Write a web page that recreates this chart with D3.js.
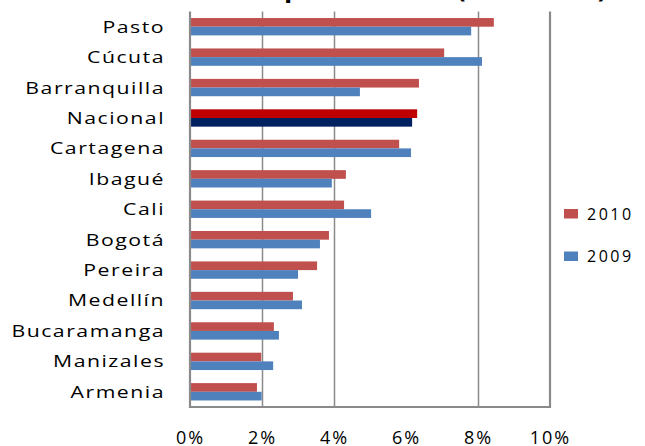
<!DOCTYPE html>
<html>
<head>
<meta charset="utf-8">
<script src="https://cdn.jsdelivr.net/npm/d3@7"></script>
<style>
  html, body { margin: 0; padding: 0; background: #fff; }
  svg { display: block; }
</style>
</head>
<body>
<div id="chart"></div>
<script>
// data (unemployment rate, share)
const cities = ["Pasto", "Cúcuta", "Barranquilla", "Nacional", "Cartagena", "Ibagué",
  "Cali", "Bogotá", "Pereira", "Medellín", "Bucaramanga", "Manizales", "Armenia"];
const v2010 = [0.0844, 0.0706, 0.0636, 0.0631, 0.0581, 0.0433, 0.0428, 0.0386, 0.0353, 0.0286, 0.0233, 0.0198, 0.0186];
const v2009 = [0.0781, 0.0811, 0.0472, 0.0617, 0.0614, 0.0394, 0.0503, 0.0361, 0.0300, 0.0311, 0.0247, 0.0231, 0.0199];
const seriesNames = ["2010", "2009"];
const xTicks = [0, 0.02, 0.04, 0.06, 0.08, 0.10];
const gridTicks = [0.02, 0.04, 0.08]; // the 6% line doesn't show in the original

const W = 645, H = 446;
const plot = { left: 190, right: 550, top: 11.5, bottom: 407 };
const colors = { "2010": "#C0504D", "2009": "#4F81BD" };
const natColors = { "2010": "#C00000", "2009": "#002060" };
const font = "'Open Sans', sans-serif";

const svg = d3.select("#chart").append("svg")
  .attr("width", W).attr("height", H);

// title, mostly cut off above the frame
svg.append("text")
  .attr("x", 607).attr("y", -3)
  .attr("text-anchor", "end")
  .style("font", `bold 27px ${font}`)
  .attr("fill", "#000")
  .text("Tasa de Desempleo Urbano (2009-2010)");

const x = d3.scaleLinear().domain([0, 0.10]).range([plot.left, plot.right]);
const y = d3.scaleBand().domain(cities)
  .range([plot.top, plot.bottom])
  .paddingInner(0.43).paddingOuter(0.215);
const ys = d3.scaleBand().domain(seriesNames).range([0, y.bandwidth()]);

// gridlines
svg.append("g")
  .attr("transform", `translate(0,${plot.bottom})`)
  .call(d3.axisBottom(x).tickValues(gridTicks).tickSize(-(plot.bottom - plot.top)).tickFormat(""))
  .call(g => g.select(".domain").remove())
  .call(g => g.selectAll("line").attr("stroke", "#8a8a8a").attr("stroke-width", 1.5));

// bars
const rows = cities.map((c, i) => ({ city: c, vals: [v2010[i], v2009[i]] }));
const grp = svg.append("g").selectAll("g").data(rows).join("g")
  .attr("transform", d => `translate(0,${y(d.city)})`);
grp.selectAll("rect")
  .data(d => d.vals.map((v, k) => ({ city: d.city, s: seriesNames[k], v })))
  .join("rect")
  .attr("x", x(0))
  .attr("y", d => ys(d.s))
  .attr("width", d => x(d.v) - x(0))
  .attr("height", ys.bandwidth())
  .attr("fill", d => d.city === "Nacional" ? natColors[d.s] : colors[d.s]);

// frame: left, right, bottom
const frame = svg.append("g").attr("stroke", "#8a8a8a").attr("stroke-width", 2.2).attr("fill", "none");
frame.append("path")
  .attr("d", `M${plot.left},${plot.top}V${plot.bottom}H${plot.right}V${plot.top}`);

// category labels: the original text is stretched sideways
svg.append("g")
  .attr("transform", `translate(${plot.left - 25},0)`)
  .call(d3.axisLeft(y).tickSize(0).tickPadding(0))
  .call(g => g.select(".domain").remove())
  .call(g => g.selectAll("text")
    .style("font", `17px ${font}`)
    .style("letter-spacing", "1.2px")
    .attr("transform", "scale(1.25,1)")
    .attr("fill", "#000")
    .attr("dy", "0.35em"));

// x tick labels
svg.append("g")
  .attr("transform", `translate(0,${plot.bottom})`)
  .call(d3.axisBottom(x).tickValues(xTicks).tickFormat(d3.format(".0%")).tickSize(0).tickPadding(0))
  .call(g => g.select(".domain").remove())
  .call(g => g.selectAll("text")
    .attr("y", 37)
    .attr("dy", 0)
    .style("font", `18px ${font}`)
    .style("letter-spacing", "2px")
    .attr("fill", "#000"));

// legend
const legend = svg.append("g").selectAll("g").data(seriesNames).join("g")
  .attr("transform", (d, i) => `translate(564,${209 + i * 42.5})`);
legend.append("rect").attr("width", 14).attr("height", 9.5).attr("fill", d => colors[d]);
legend.append("text")
  .attr("x", 23).attr("y", 10.5)
  .style("font", `16px ${font}`)
  .style("letter-spacing", "2.5px")
  .attr("fill", "#000")
  .text(d => d);
</script>
</body>
</html>
